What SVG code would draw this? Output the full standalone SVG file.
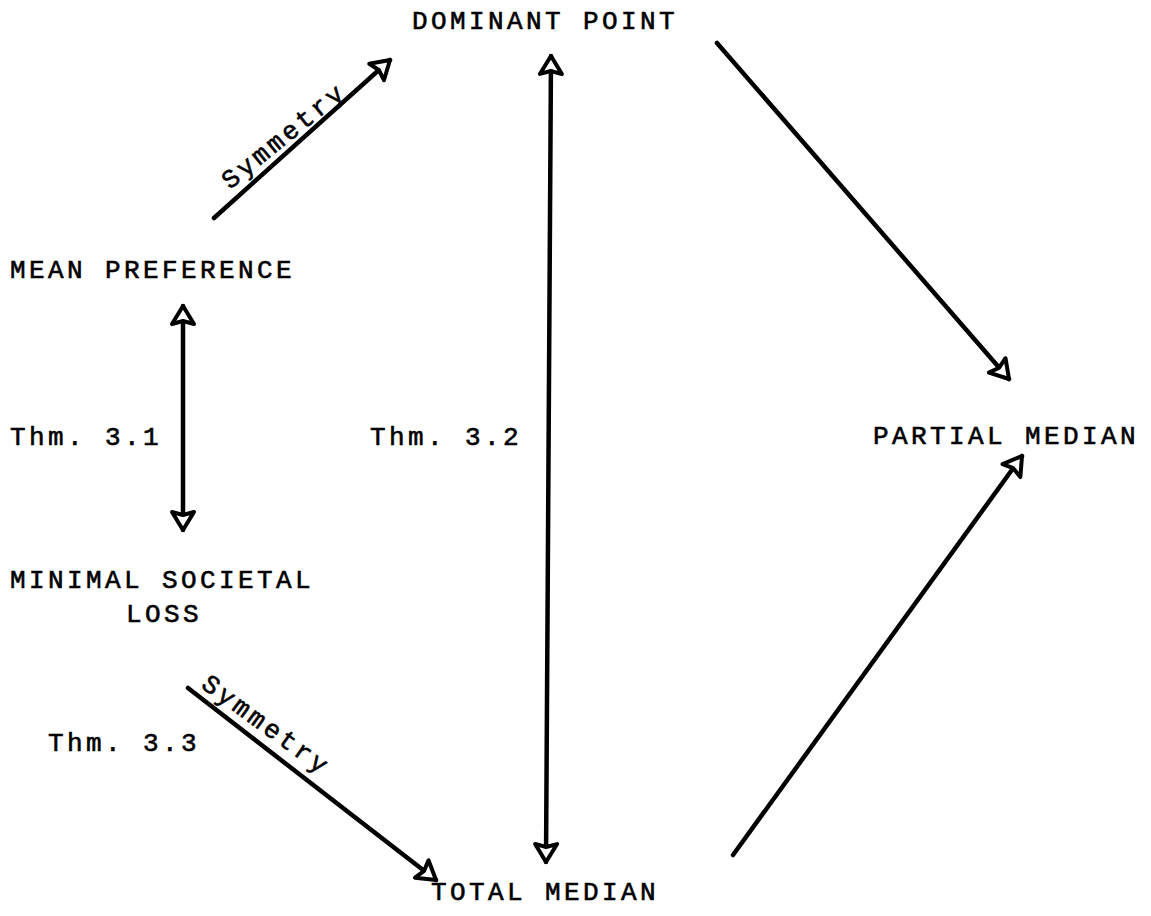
<svg xmlns="http://www.w3.org/2000/svg" width="1151" height="916" viewBox="0 0 1151 916">
<style>
.t{font-family:"Liberation Mono","DejaVu Sans Mono",monospace;font-size:26px;letter-spacing:3.4px;fill:#000;stroke:#000;stroke-width:0.6}
.c{stroke:#000;stroke-width:4.5;fill:none;stroke-linecap:round}
</style>
<defs>
<marker id="ah" markerUnits="userSpaceOnUse" markerWidth="34" markerHeight="34" refX="22" refY="14" orient="auto-start-reverse">
<path d="M22 14 L4 3 L7 14 L4 25 Z" fill="#fff" stroke="#000" stroke-width="4" stroke-linejoin="round"/>
</marker>
</defs>
<rect width="1151" height="916" fill="#fff"/>
<g id="dominant"><text class="t" x="545" y="29" text-anchor="middle">DOMINANT POINT</text></g>
<g id="mean"><text class="t" x="10" y="278">MEAN PREFERENCE</text></g>
<g id="partial"><text class="t" x="1006" y="444" text-anchor="middle">PARTIAL MEDIAN</text></g>
<g id="minimal"><text class="t" x="162" y="588" text-anchor="middle">MINIMAL SOCIETAL</text><text class="t" x="164" y="622" text-anchor="middle">LOSS</text></g>
<g id="total"><text class="t" x="545" y="900" text-anchor="middle">TOTAL MEDIAN</text></g>
<g id="thm31"><text class="t" x="10" y="445">Thm. 3.1</text></g>
<g id="thm32"><text class="t" x="370" y="445">Thm. 3.2</text></g>
<g id="thm33"><text class="t" x="48" y="751">Thm. 3.3</text></g>
<g id="connectors">
<line class="c" x1="214" y1="218" x2="390" y2="60" marker-end="url(#ah)"/>
<line class="c" x1="551" y1="56" x2="546" y2="862" marker-start="url(#ah)" marker-end="url(#ah)"/>
<line class="c" x1="717" y1="43" x2="1009" y2="379" marker-end="url(#ah)"/>
<line class="c" x1="183" y1="306" x2="183" y2="530" marker-start="url(#ah)" marker-end="url(#ah)"/>
<line class="c" x1="188" y1="688" x2="436" y2="880" marker-end="url(#ah)"/>
<line class="c" x1="733" y1="855" x2="1022" y2="456" marker-end="url(#ah)"/>
<text class="t" transform="translate(230,190) rotate(-39)">Symmetry</text>
<text class="t" transform="translate(200,687) rotate(36)">Symmetry</text>
</g>
</svg>
